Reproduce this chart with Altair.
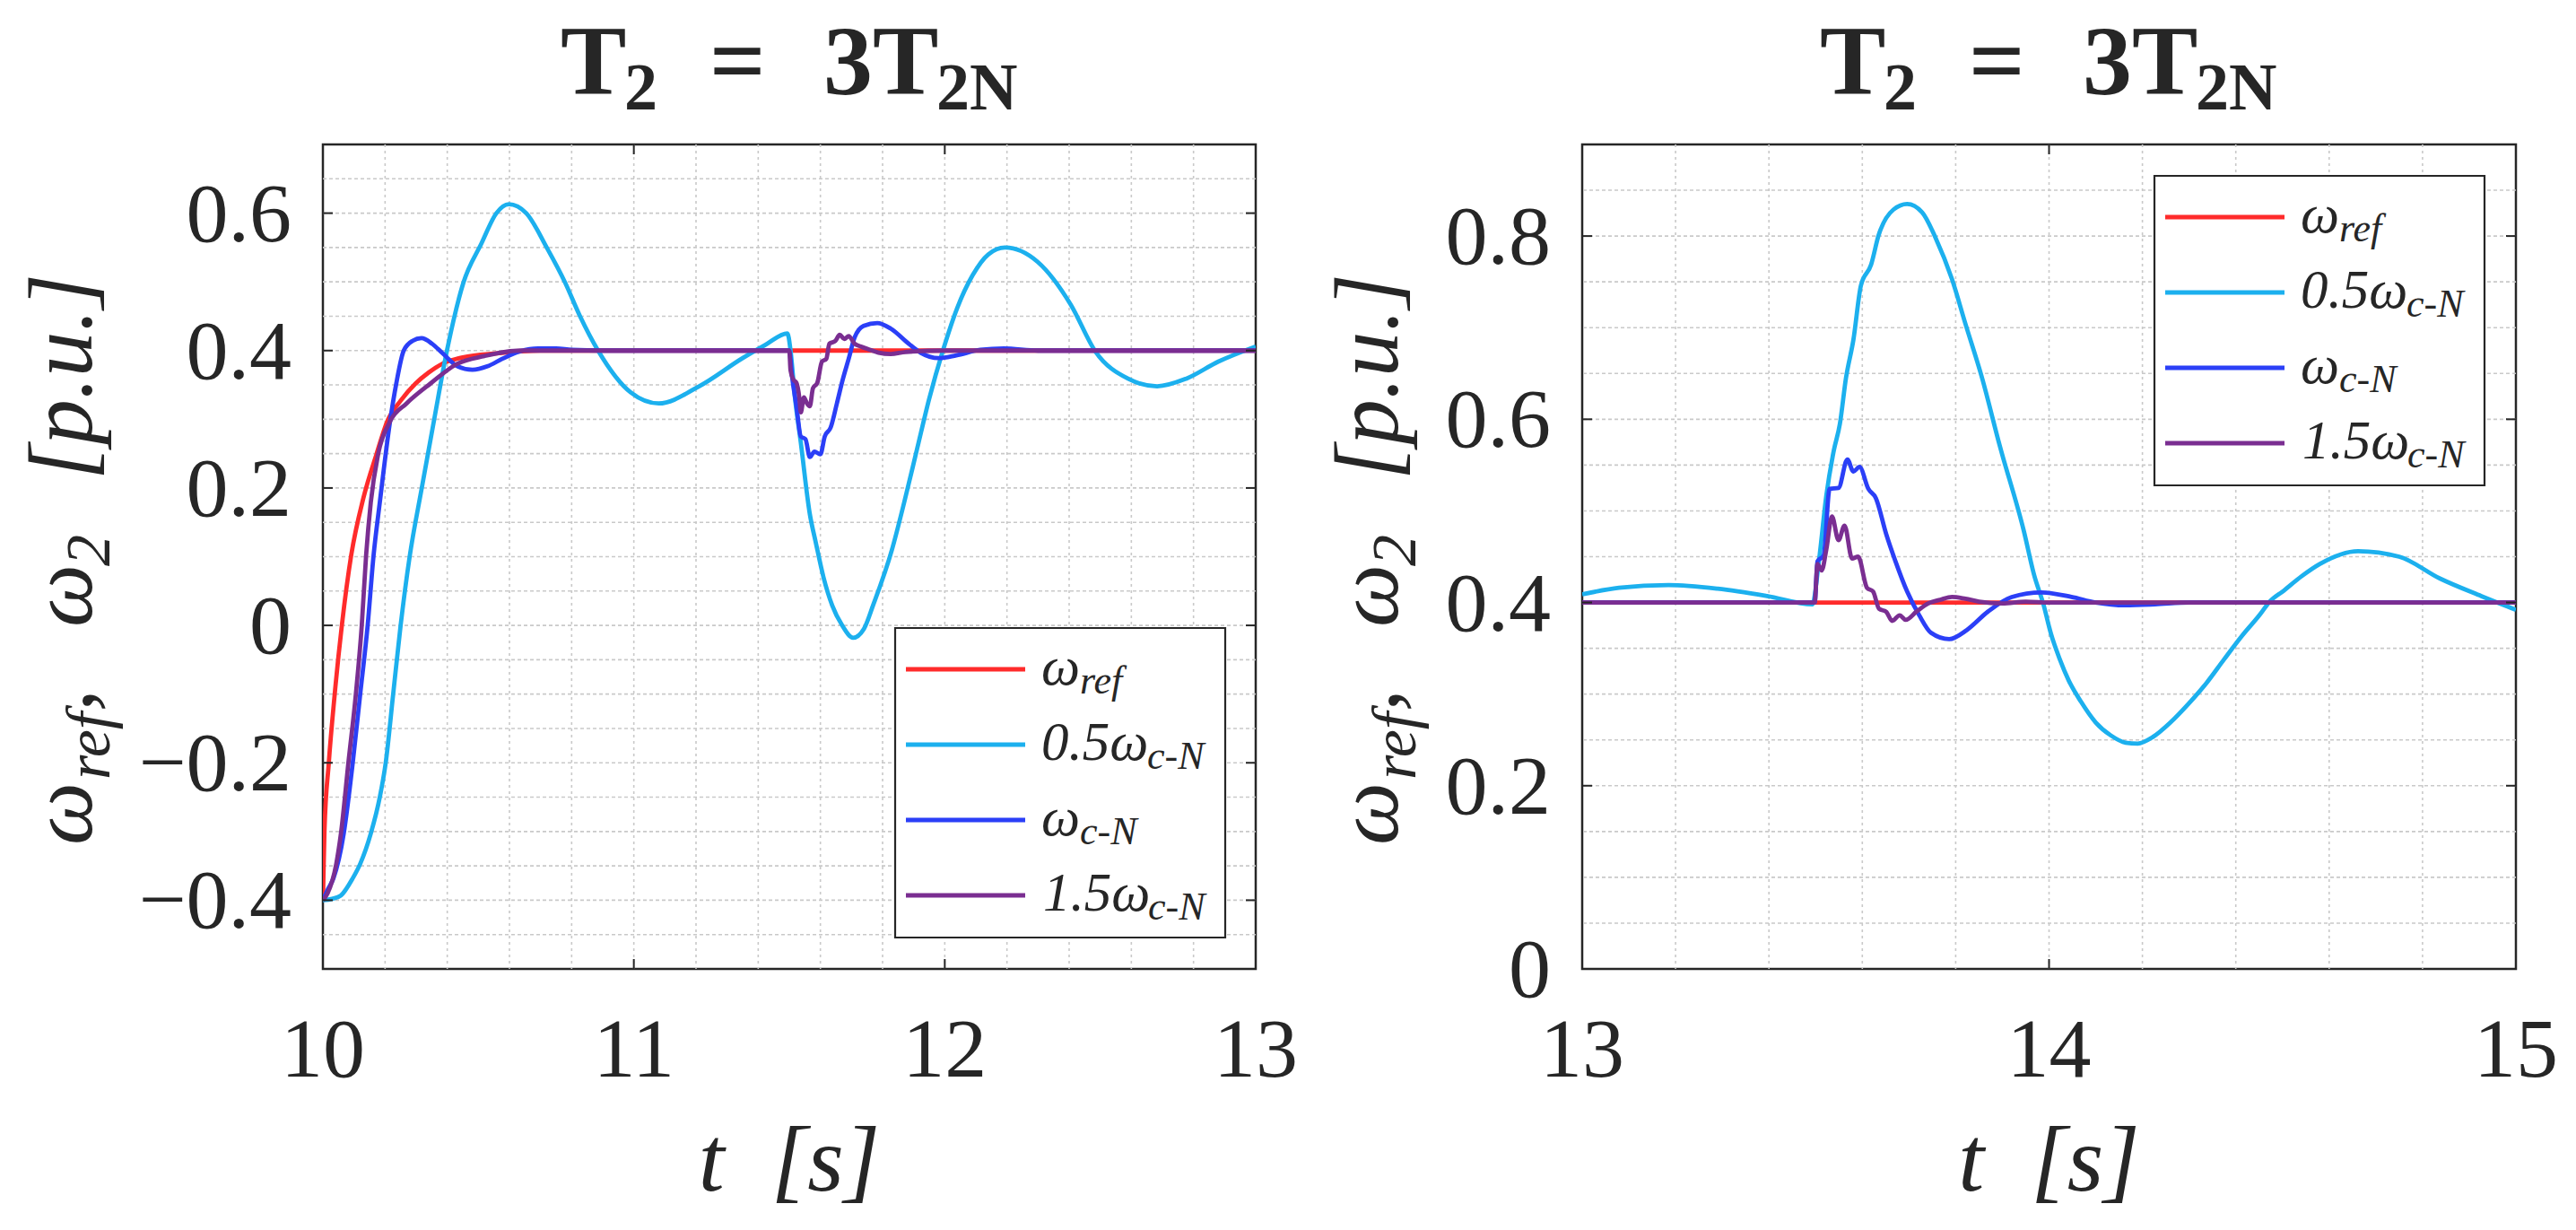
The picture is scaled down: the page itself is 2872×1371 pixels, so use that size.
import altair as alt
import pandas as pd

FONT = "Liberation Serif"
INK = "#262626"
GRID = "#c9c9c9"

# ---------------- data (t [s], value [p.u.]) ----------------
L_REF = [(10.0, -0.4), (10.005, -0.3), (10.019, -0.2), (10.038, -0.1), (10.061, 0.0),
         (10.091, 0.102), (10.13, 0.185), (10.173, 0.25), (10.207, 0.297),
         (10.25, 0.327), (10.298, 0.352), (10.34, 0.368), (10.385, 0.381), (10.45, 0.39),
         (10.558, 0.396), (10.70, 0.4), (11.5, 0.4), (12.5, 0.4), (13.0, 0.4)]

L_C05 = [(10.0, -0.4), (10.03, -0.398), (10.058, -0.393), (10.096, -0.368), (10.12, -0.347),
         (10.154, -0.303), (10.183, -0.25), (10.202, -0.2), (10.226, -0.1), (10.25, 0.0),
         (10.279, 0.1), (10.318, 0.2), (10.358, 0.3), (10.399, 0.4), (10.452, 0.499),
         (10.51, 0.556), (10.558, 0.6),
         (10.598, 0.613), (10.654, 0.6), (10.721, 0.549), (10.779, 0.499), (10.827, 0.45),
         (10.885, 0.4), (10.99, 0.339), (11.08, 0.323), (11.21, 0.348), (11.35, 0.389),
         (11.422, 0.408), (11.494, 0.425), (11.504, 0.40), (11.518, 0.332), (11.537, 0.266),
         (11.566, 0.162), (11.585, 0.121), (11.61, 0.07), (11.638, 0.029), (11.67, 0.0),
         (11.705, -0.018), (11.74, -0.005), (11.77, 0.03), (11.83, 0.11), (11.87, 0.18),
         (11.91, 0.255), (11.95, 0.33), (11.994, 0.4), (12.04, 0.462), (12.09, 0.51),
         (12.14, 0.54), (12.194, 0.55), (12.299, 0.529), (12.405, 0.467), (12.484, 0.399),
         (12.59, 0.359), (12.683, 0.348), (12.776, 0.359), (12.88, 0.384), (13.0, 0.406)]

L_C1 = [(10.0, -0.4), (10.015, -0.385), (10.034, -0.368), (10.067, -0.303), (10.096, -0.2),
        (10.12, -0.1), (10.144, 0.0), (10.163, 0.102), (10.183, 0.179), (10.216, 0.297),
        (10.236, 0.352), (10.26, 0.4), (10.288, 0.414), (10.317, 0.418), (10.351, 0.41),
        (10.385, 0.396), (10.433, 0.377), (10.481, 0.372), (10.529, 0.377), (10.577, 0.388),
        (10.635, 0.399), (10.692, 0.403), (10.75, 0.403), (10.8, 0.401), (10.9, 0.4),
        (11.5, 0.4), (11.509, 0.362), (11.523, 0.319), (11.537, 0.275), (11.552, 0.271),
        (11.566, 0.245), (11.581, 0.253), (11.6, 0.249), (11.614, 0.275), (11.633, 0.288),
        (11.653, 0.323), (11.672, 0.358), (11.691, 0.388), (11.71, 0.419), (11.739, 0.436),
        (11.783, 0.44), (11.826, 0.432), (11.884, 0.41), (11.922, 0.397), (11.98, 0.389),
        (12.037, 0.393), (12.114, 0.401), (12.19, 0.403), (12.3, 0.4), (13.0, 0.4)]

L_C15 = [(10.0, -0.4), (10.015, -0.39), (10.043, -0.347), (10.058, -0.303), (10.082, -0.2),
         (10.106, -0.1), (10.125, 0.0), (10.139, 0.102), (10.154, 0.179),
         (10.178, 0.25), (10.216, 0.297), (10.269, 0.323), (10.346, 0.352), (10.433, 0.381),
         (10.519, 0.392), (10.635, 0.4), (11.5, 0.4), (11.504, 0.371), (11.513, 0.358),
         (11.523, 0.353), (11.532, 0.332), (11.537, 0.31), (11.547, 0.332), (11.557, 0.323),
         (11.566, 0.319), (11.576, 0.345), (11.59, 0.353), (11.605, 0.384), (11.619, 0.388),
         (11.629, 0.41), (11.648, 0.414), (11.662, 0.423), (11.677, 0.417), (11.691, 0.421),
         (11.71, 0.41), (11.73, 0.406), (11.754, 0.402), (11.787, 0.397), (11.826, 0.395),
         (11.874, 0.398), (12.0, 0.4), (13.0, 0.4)]

R_REF = [(13.0, 0.4), (15.0, 0.4)]

R_C05 = [(13.0, 0.409), (13.079, 0.416), (13.185, 0.419), (13.29, 0.415), (13.396, 0.407),
         (13.493, 0.398), (13.507, 0.445), (13.523, 0.517), (13.539, 0.566), (13.552, 0.595),
         (13.565, 0.645), (13.581, 0.687), (13.597, 0.746), (13.619, 0.769), (13.635, 0.801),
         (13.667, 0.829), (13.696, 0.835), (13.728, 0.826), (13.757, 0.798), (13.792, 0.753),
         (13.821, 0.704), (13.856, 0.646), (13.895, 0.57), (13.946, 0.478), (13.968, 0.43),
         (13.988, 0.398), (14.004, 0.366), (14.023, 0.338), (14.042, 0.315), (14.068, 0.292),
         (14.1, 0.269), (14.132, 0.255), (14.164, 0.247), (14.19, 0.246), (14.222, 0.253),
         (14.26, 0.269), (14.298, 0.289), (14.337, 0.312), (14.375, 0.338), (14.414, 0.364),
         (14.452, 0.387), (14.471, 0.4), (14.503, 0.413), (14.542, 0.429), (14.58, 0.442),
         (14.662, 0.456), (14.75, 0.45), (14.838, 0.426), (14.926, 0.407), (15.0, 0.392)]

R_C1 = [(13.0, 0.4), (13.498, 0.4), (13.504, 0.445), (13.517, 0.451), (13.53, 0.524),
        (13.549, 0.525), (13.568, 0.556), (13.581, 0.543), (13.594, 0.548), (13.613, 0.524),
        (13.629, 0.514), (13.651, 0.475), (13.671, 0.445), (13.696, 0.412), (13.722, 0.386),
        (13.747, 0.367), (13.786, 0.36), (13.824, 0.37), (13.869, 0.39), (13.92, 0.406),
        (13.984, 0.411), (14.048, 0.406), (14.1, 0.4), (14.163, 0.397), (14.227, 0.398),
        (14.3, 0.4), (15.0, 0.4)]

R_C15 = [(13.0, 0.4), (13.498, 0.4), (13.504, 0.442), (13.513, 0.435), (13.523, 0.458),
         (13.535, 0.494), (13.549, 0.468), (13.562, 0.484), (13.578, 0.448), (13.591, 0.45),
         (13.61, 0.416), (13.623, 0.412), (13.636, 0.393), (13.651, 0.39), (13.664, 0.38),
         (13.68, 0.386), (13.693, 0.381), (13.716, 0.39), (13.741, 0.399), (13.767, 0.403),
         (13.792, 0.406), (13.821, 0.404), (13.85, 0.401), (13.9, 0.399), (13.95, 0.401),
         (14.0, 0.4), (15.0, 0.4)]

COLORS = ["#FF2B2B", "#1CB0EE", "#2B3FF7", "#7A2E91"]

# ticks / grid
L_XTICKS = [10, 11, 12, 13]
L_XLABELS = ["10", "11", "12", "13"]
L_YTICKS = [-0.4, -0.2, 0, 0.2, 0.4, 0.6]
L_YLABELS = ["\u22120.4", "\u22120.2", "0", "0.2", "0.4", "0.6"]
L_XGRID = [10.2, 10.4, 10.6, 10.8, 11.0, 11.2, 11.4, 11.6, 11.8, 12.0, 12.2, 12.4, 12.6, 12.8]
L_YGRID = [-0.45, -0.4, -0.35, -0.3, -0.25, -0.2, -0.15, -0.1, -0.05, 0.0, 0.05, 0.1, 0.15,
           0.2, 0.25, 0.3, 0.35, 0.4, 0.45, 0.5, 0.55, 0.6, 0.65]
R_XTICKS = [13, 14, 15]
R_XLABELS = ["13", "14", "15"]
R_YTICKS = [0, 0.2, 0.4, 0.6, 0.8]
R_YLABELS = ["0", "0.2", "0.4", "0.6", "0.8"]
R_XGRID = [13.2, 13.4, 13.6, 13.8, 14.0, 14.2, 14.4, 14.6, 14.8]
R_YGRID = [0.05, 0.1, 0.15, 0.2, 0.25, 0.3, 0.35, 0.4, 0.45, 0.5, 0.55, 0.6, 0.65, 0.7,
           0.75, 0.8, 0.85]

# text
LEG_MAIN = ["ω", "0.5ω", "ω", "1.5ω"]
LEG_SUB = ["ref", "c-N", "c-N", "c-N"]
X_TITLE = "t\u00a0\u00a0[s]"

ONE = pd.DataFrame({"k": [0]})


def txt(s, x, y, size, italic=False, bold=False, angle=None, align="left"):
    kw = dict(text=s, font=FONT, fontSize=size, color=INK, align=align, baseline="alphabetic")
    if italic:
        kw["fontStyle"] = "italic"
    if bold:
        kw["fontWeight"] = "bold"
    if angle is not None:
        kw["angle"] = angle
    return alt.Chart(ONE).mark_text(**kw).encode(x=alt.value(x), y=alt.value(y))


def panel(series, xdom, ydom, xticks, xlabels, yticks, ylabels, xgrid, ygrid, W, H,
          leg_top, ytb, anchor=False):
    xs = alt.Scale(domain=xdom, nice=False, zero=False)
    ys = alt.Scale(domain=ydom, nice=False, zero=False)
    layers = []
    if anchor:
        layers.append(alt.Chart(ONE).mark_rect(opacity=0).encode(
            x=alt.value(-350), x2=alt.value(-349), y=alt.value(-151), y2=alt.value(-150)))
    layers.append(alt.Chart(pd.DataFrame({"g": xgrid})).mark_rule(
        color=GRID, strokeWidth=1.6, strokeDash=[3, 4]).encode(
        x=alt.X("g:Q", scale=xs, axis=None)))
    layers.append(alt.Chart(pd.DataFrame({"g": ygrid})).mark_rule(
        color=GRID, strokeWidth=1.6, strokeDash=[4, 3]).encode(
        y=alt.Y("g:Q", scale=ys, axis=None)))
    for pts, col in zip(series, COLORS):
        df = pd.DataFrame(pts, columns=["t", "v"])
        layers.append(alt.Chart(df).mark_line(color=col, strokeWidth=4.8, clip=True,
                                              interpolate="monotone").encode(
            x=alt.X("t:Q", scale=xs, axis=None), y=alt.Y("v:Q", scale=ys, axis=None)))
    xt = pd.DataFrame({"xt": xticks, "lab": xlabels})
    yt = pd.DataFrame({"yt": yticks, "lab": ylabels})
    # inner ticks on all four sides
    layers.append(alt.Chart(xt).mark_rule(color=INK, strokeWidth=2).encode(
        x=alt.X("xt:Q", scale=xs, axis=None), y=alt.value(H), y2=alt.value(H - 11)))
    layers.append(alt.Chart(xt).mark_rule(color=INK, strokeWidth=2).encode(
        x=alt.X("xt:Q", scale=xs, axis=None), y=alt.value(0), y2=alt.value(11)))
    layers.append(alt.Chart(yt).mark_rule(color=INK, strokeWidth=2).encode(
        y=alt.Y("yt:Q", scale=ys, axis=None), x=alt.value(0), x2=alt.value(11)))
    layers.append(alt.Chart(yt).mark_rule(color=INK, strokeWidth=2).encode(
        y=alt.Y("yt:Q", scale=ys, axis=None), x=alt.value(W), x2=alt.value(W - 11)))
    # tick labels
    layers.append(alt.Chart(xt).mark_text(font=FONT, fontSize=94, color=INK, align="center",
                                          baseline="alphabetic").encode(
        x=alt.X("xt:Q", scale=xs, axis=None), y=alt.value(1039), text="lab:N"))
    layers.append(alt.Chart(yt).mark_text(font=FONT, fontSize=94, color=INK, align="right",
                                          baseline="alphabetic", dy=31).encode(
        y=alt.Y("yt:Q", scale=ys, axis=None), x=alt.value(-35), text="lab:N"))
    # legend
    layers.append(alt.Chart(ONE).mark_rect(fill="white", stroke=INK, strokeWidth=2.2).encode(
        x=alt.value(638), x2=alt.value(1006), y=alt.value(leg_top), y2=alt.value(leg_top + 345)))
    row_off = [46, 130, 214, 298]
    main_x = [801, 801, 801, 803]
    sub_x = [844, 919, 844, 920]
    for i in range(4):
        r = leg_top + row_off[i]
        layers.append(alt.Chart(ONE).mark_rule(color=COLORS[i], strokeWidth=4.8).encode(
            x=alt.value(650), x2=alt.value(783), y=alt.value(r)))
        layers.append(txt(LEG_MAIN[i], main_x[i], r + 16.5, 61, italic=True))
        layers.append(txt(LEG_SUB[i], sub_x[i], r + 26.5, 44, italic=True))
    # title  T2 = 3T2N
    layers.append(txt("T", 265, -56, 110, bold=True))
    layers.append(txt("2", 336, -39, 74, bold=True))
    layers.append(txt("=", 431, -56, 110, bold=True))
    layers.append(txt("3T", 558, -56, 110, bold=True))
    layers.append(txt("2N", 684, -39, 74, bold=True))
    # x title
    layers.append(txt(X_TITLE, W / 2, 1166, 104, italic=True, align="center"))
    # y title (rotated)
    sb = ytb + 20
    layers.append(txt("ω", ytb, 781, 99, italic=True, angle=270))
    layers.append(txt("ref", sb, 708, 70, italic=True, angle=270))
    layers.append(txt(",", ytb, 632, 99, italic=True, angle=270))
    layers.append(txt("ω", ytb, 538, 99, italic=True, angle=270))
    layers.append(txt("2", sb, 470, 70, italic=True, angle=270))
    layers.append(txt("[p.u.]", ytb, 374, 101, italic=True, angle=270))
    return alt.layer(*layers).properties(width=W, height=H)


left = panel([L_REF, L_C05, L_C1, L_C15], [10, 13], [-0.5, 0.7], L_XTICKS, L_XLABELS,
             L_YTICKS, L_YLABELS, L_XGRID, L_YGRID, 1040, 919, 539, -258, anchor=True)
right = panel([R_REF, R_C05, R_C1, R_C15], [13, 15], [0, 0.9], R_XTICKS, R_XLABELS,
              R_YTICKS, R_YLABELS, R_XGRID, R_YGRID, 1041, 919, 35, -206)

chart = alt.hconcat(left, right, spacing=364, bounds="flush").properties(
    padding=0, background="white"
).configure_view(stroke=INK, strokeWidth=2.5)

chart.save("out.html", embed_options={"renderer": "svg", "actions": False})
